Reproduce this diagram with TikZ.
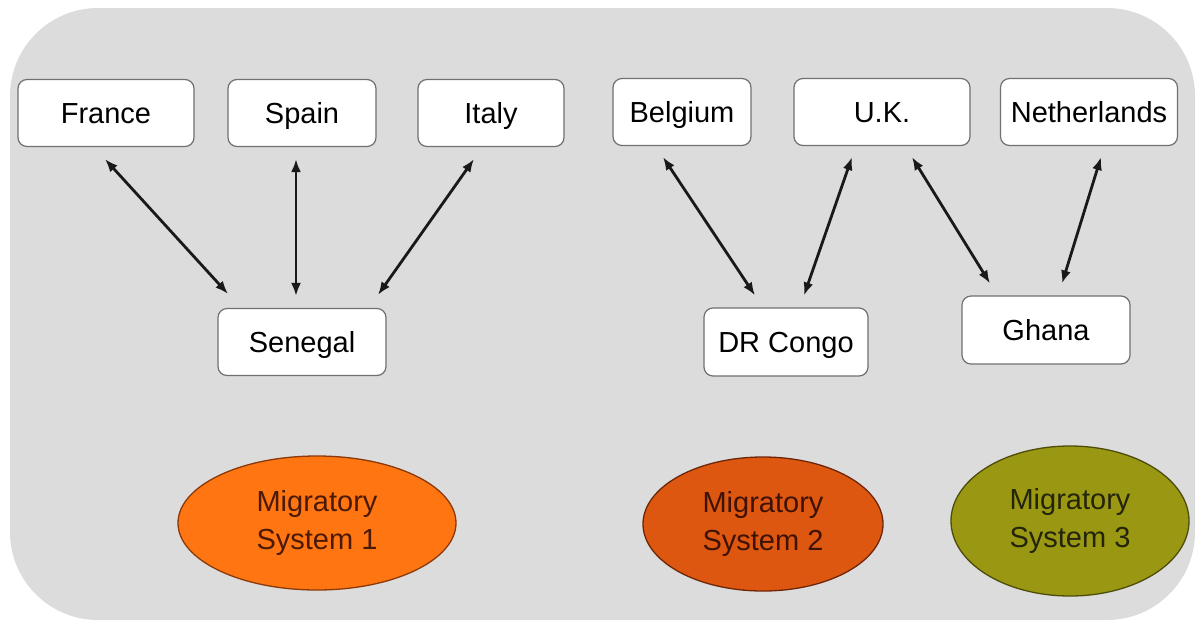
\documentclass[tikz,border=0pt]{standalone}
\usepackage{fontspec}
\setmainfont{Liberation Sans}
\usetikzlibrary{arrows.meta,shapes.geometric,calc}

\definecolor{panelgray}{HTML}{DCDCDC}
\definecolor{boxline}{HTML}{707070}
\definecolor{msonefill}{HTML}{FF7512}
\definecolor{msoneline}{HTML}{8A3A0A}
\definecolor{msonetext}{HTML}{4A1A06}
\definecolor{mstwofill}{HTML}{DE5710}
\definecolor{mstwoline}{HTML}{6E2608}
\definecolor{mstwotext}{HTML}{3E1204}
\definecolor{msthreefill}{HTML}{9A9812}
\definecolor{msthreeline}{HTML}{4E4C0A}
\definecolor{msthreetext}{HTML}{24240A}

\tikzset{
  country/.style={draw=boxline, line width=1.2pt, fill=white, rounded corners=9pt,
    inner sep=0pt, minimum height=67pt, text height=21pt, text depth=1pt,
    font=\fontsize{29}{34}\selectfont},
  system/.style={ellipse, line width=1.3pt, inner sep=0pt, align=center,
    font=\fontsize{29}{38}\selectfont},
  flow/.style={line width=2.8pt, black!90,
    {Latex[length=13pt,width=10pt]}-{Latex[length=13pt,width=10pt]}}
}

\begin{document}
\begin{tikzpicture}[x=1pt,y=-1pt]
\useasboundingbox (0,0) rectangle (1197,622);

% grey panel behind the diagram
\fill[panelgray, rounded corners=88pt] (10,8) rectangle (1195,620);

% destination countries
\node[country, minimum width=176pt] (france)      at (106,113)  {France};
\node[country, minimum width=148pt] (spain)       at (302,113)  {Spain};
\node[country, minimum width=146pt] (italy)       at (491,113)  {Italy};
\node[country, minimum width=138pt] (belgium)     at (682,112)  {Belgium};
\node[country, minimum width=176pt] (uk)          at (882,112)  {U.K.};
\node[country, minimum width=177pt] (netherlands) at (1089,112) {Netherlands};

% origin countries
\node[country, minimum width=168pt] (senegal) at (302,342)  {Senegal};
\node[country, minimum width=164pt, minimum height=68pt] (drcongo) at (786,342) {DR Congo};
\node[country, minimum width=168pt, minimum height=68pt] (ghana)   at (1046,330) {Ghana};

% two-way migration flows
\draw[flow] ($(france.south)+(-1,12)$)      -- ($(senegal.north)+(-74,-14)$);
\draw[flow] ($(spain.south)+(-6,12)$)       -- ($(senegal.north)+(-6,-12)$);
\draw[flow] ($(italy.south)+(-17,12)$)      -- ($(senegal.north)+(76,-13)$);
\draw[flow] ($(belgium.south)+(-19,11)$)    -- ($(drcongo.north)+(-31,-12)$);
\draw[flow] ($(uk.south)+(-30,11)$)         -- ($(drcongo.north)+(18,-12)$);
\draw[flow] ($(uk.south)+(30,11)$)          -- ($(ghana.north)+(-56,-12)$);
\draw[flow] ($(netherlands.south)+(12,11)$) -- ($(ghana.north)+(16,-12)$);

% migratory systems
\node[system, draw=msoneline, fill=msonefill, text=msonetext,
      minimum width=278pt, minimum height=134pt] (sysone) at (317,523)
      {Migratory\\System 1};
\node[system, draw=mstwoline, fill=mstwofill, text=mstwotext,
      minimum width=240pt, minimum height=134pt] (systwo) at (763,524)
      {Migratory\\System 2};
\node[system, draw=msthreeline, fill=msthreefill, text=msthreetext,
      minimum width=238pt, minimum height=150pt] (systhree) at (1070,521)
      {Migratory\\System 3};
\end{tikzpicture}
\end{document}
